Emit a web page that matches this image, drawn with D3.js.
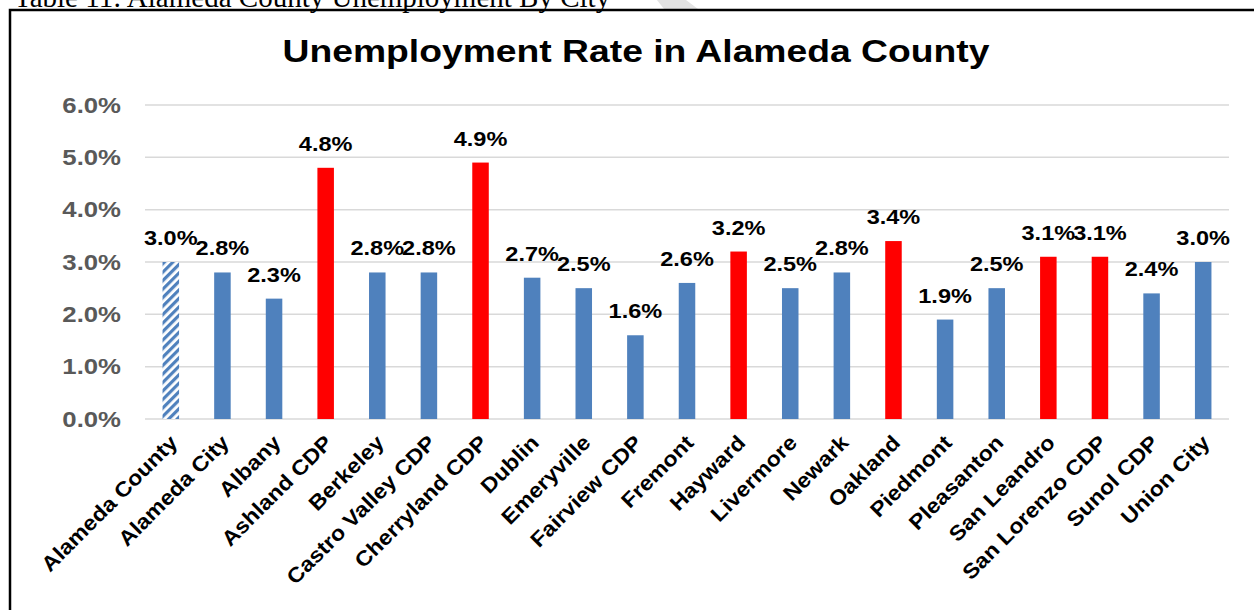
<!DOCTYPE html>
<html>
<head>
<meta charset="utf-8">
<script src="https://cdn.jsdelivr.net/npm/d3@7"></script>
<style>
  body { margin: 0; background: #fff; }
  svg { display: block; }
</style>
</head>
<body>
<svg id="chart" width="1254" height="610"></svg>
<script>
// chart data
const cities = ["Alameda County", "Alameda City", "Albany", "Ashland CDP", "Berkeley", "Castro Valley CDP",
  "Cherryland CDP", "Dublin", "Emeryville", "Fairview CDP", "Fremont", "Hayward", "Livermore", "Newark",
  "Oakland", "Piedmont", "Pleasanton", "San Leandro", "San Lorenzo CDP", "Sunol CDP", "Union City"];
const rates = [3.0, 2.8, 2.3, 4.8, 2.8, 2.8, 4.9, 2.7, 2.5, 1.6, 2.6, 3.2, 2.5, 2.8, 3.4, 1.9, 2.5, 3.1, 3.1, 2.4, 3.0];
// "county" = hatched, "high" = red, otherwise blue
const barKind = ["county", "", "", "high", "", "", "high", "", "", "", "", "high", "", "", "high", "", "", "high", "high", "", ""];
const yTicks = [0, 1, 2, 3, 4, 5, 6];

const svg = d3.select('#chart');
const width = +svg.attr('width');
const height = +svg.attr('height');
const sans = 'Arial, "Liberation Sans", sans-serif';

// the source fonts render a bit wider than Arial, stretch text to match
const widen = (sel, k) => sel.each(function() {
  const w = this.getComputedTextLength();
  d3.select(this).attr('textLength', w * k).attr('lengthAdjust', 'spacingAndGlyphs');
});

const defs = svg.append('defs');
const pat = defs.append('pattern')
  .attr('id', 'hatch')
  .attr('patternUnits', 'userSpaceOnUse')
  .attr('width', 6).attr('height', 6)
  .attr('patternTransform', 'rotate(45)');
pat.append('rect').attr('width', 6).attr('height', 6).attr('fill', '#fff');
pat.append('rect').attr('width', 3.2).attr('height', 6).attr('fill', '#4F81BD');

// faint watermark piece above the frame
svg.append('path')
  .attr('d', 'M657,0 L686,0 L698,9 L664,9 Z')
  .attr('fill', '#e3e3e3');

// caption above the frame (cut off by the page top)
svg.append('text')
  .attr('x', 14).attr('y', 7)
  .attr('font-family', '"Liberation Serif", "Times New Roman", serif')
  .attr('font-size', 29)
  .attr('fill', '#000')
  .text('Table 11: Alameda County Unemployment By City');

// frame
svg.append('path')
  .attr('d', `M10,${height} L10,10 L${width},10`)
  .attr('fill', 'none')
  .attr('stroke', '#000')
  .attr('stroke-width', 2.5);

const x = d3.scaleBand()
  .domain(cities)
  .range([145, 1229])
  .paddingInner(0.68)
  .paddingOuter(0.34);

const y = d3.scaleLinear()
  .domain([0, 6])
  .range([419, 105]);

// title
const title = svg.append('text')
  .attr('x', 636).attr('y', 62)
  .attr('text-anchor', 'middle')
  .attr('font-family', sans)
  .attr('font-weight', 'bold')
  .attr('font-size', 31)
  .attr('fill', '#000')
  .text('Unemployment Rate in Alameda County');
title.attr('textLength', 707).attr('lengthAdjust', 'spacingAndGlyphs');

// gridlines
svg.append('g').selectAll('line').data(yTicks)
  .enter().append('line')
    .attr('x1', 145).attr('x2', 1229)
    .attr('y1', d => y(d)).attr('y2', d => y(d))
    .attr('stroke', '#d9d9d9')
    .attr('stroke-width', 1.5);

// y axis labels
const yAxis = d3.axisLeft(y)
  .tickValues(yTicks)
  .tickFormat(d => d.toFixed(1) + '%')
  .tickSize(0)
  .tickPadding(24);
const yg = svg.append('g').attr('transform', 'translate(145,0)').call(yAxis);
yg.select('.domain').remove();
yg.selectAll('text')
  .attr('font-family', sans)
  .attr('font-weight', 'bold')
  .attr('font-size', 22)
  .attr('fill', '#595959')
  .call(widen, 1.17);

const colorOf = k => k === 'county' ? 'url(#hatch)' : (k === 'high' ? '#FF0000' : '#4F81BD');

// bars
svg.append('g').selectAll('rect').data(cities)
  .enter().append('rect')
    .attr('x', d => x(d))
    .attr('width', x.bandwidth())
    .attr('y', (d, i) => y(rates[i]))
    .attr('height', (d, i) => y(0) - y(rates[i]))
    .attr('fill', (d, i) => colorOf(barKind[i]));

// value labels
svg.append('g').selectAll('text').data(cities)
  .enter().append('text')
    .attr('x', d => x(d) + x.bandwidth() / 2)
    .attr('y', (d, i) => y(rates[i]) - 17)
    .attr('text-anchor', 'middle')
    .attr('font-family', sans)
    .attr('font-weight', 'bold')
    .attr('font-size', 21)
    .attr('fill', '#000')
    .text((d, i) => rates[i].toFixed(1) + '%')
    .call(widen, 1.12);

// category labels
const xAxis = d3.axisBottom(x).tickSize(0).tickPadding(0);
const xg = svg.append('g').attr('transform', 'translate(0,419)').call(xAxis);
xg.select('.domain').remove();
xg.selectAll('text')
  .attr('font-family', sans)
  .attr('font-weight', 'bold')
  .attr('font-size', 21)
  .attr('fill', '#000')
  .attr('text-anchor', 'end')
  .attr('dy', null)
  .attr('transform', 'translate(8,25) rotate(-45)')
  .call(widen, 1.1);
</script>
</body>
</html>
